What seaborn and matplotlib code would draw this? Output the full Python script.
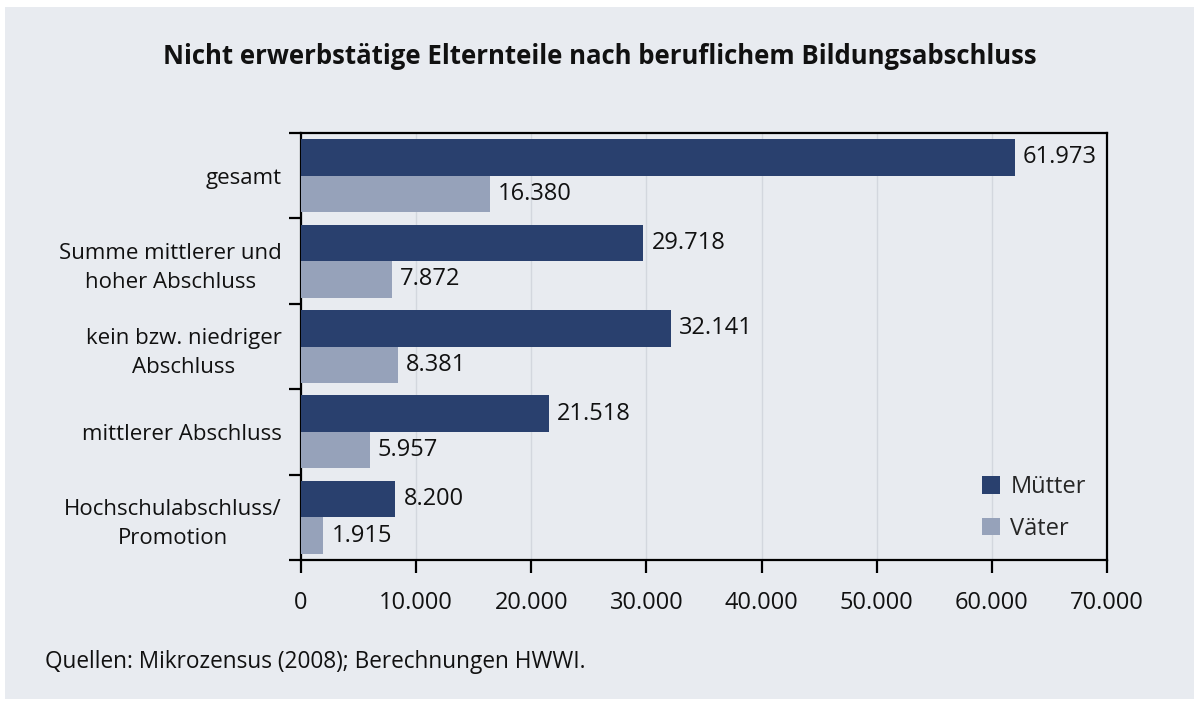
import matplotlib
matplotlib.use("Agg")
import matplotlib.pyplot as plt
import seaborn as sns
import pandas as pd
from matplotlib.patches import Rectangle
from matplotlib.ticker import FuncFormatter

categories = ["gesamt", "Summe mittlerer und\nhoher Abschluss", "kein bzw. niedriger\nAbschluss",
              "mittlerer Abschluss", "Hochschulabschluss/\nPromotion"]
muetter = [61973, 29718, 32141, 21518, 8200]
vaeter = [16380, 7872, 8381, 5957, 1915]
series = ["Mütter", "Väter"]
x_ticks = [0, 10000, 20000, 30000, 40000, 50000, 60000, 70000]

df = pd.DataFrame({
    "Kategorie": categories * 2,
    "Wert": muetter + vaeter,
    "Gruppe": [series[0]] * len(categories) + [series[1]] * len(categories),
})

sns.set_theme(style="white")
plt.rcParams["font.family"] = ["Open Sans", "DejaVu Sans"]

BG = "#e8ebf0"
DARK = "#29406e"
LIGHT = "#96a2ba"
FS = 16
NFS = 17

fig = plt.figure(figsize=(11.99, 7.06), dpi=100, facecolor="white")
fig.patches.append(Rectangle((5 / 1199, 7 / 706), 1 - 10 / 1199, 1 - 14 / 706,
                             transform=fig.transFigure, facecolor=BG, edgecolor="none", zorder=-10))
ax = fig.add_axes([301 / 1199, 1 - 560 / 706, (1107 - 301) / 1199, (560 - 133) / 706])
ax.set_facecolor(BG)

sns.barplot(data=df, y="Kategorie", x="Wert", hue="Gruppe", orient="h",
            palette={series[0]: DARK, series[1]: LIGHT}, width=0.855,
            saturation=1, ax=ax, zorder=3, linewidth=0, edgecolor="none")

ax.set_xlim(0, 70000)
ax.set_xticks(x_ticks)
ax.xaxis.set_major_formatter(FuncFormatter(lambda v, p: f"{int(v):,}".replace(",", ".")))
ax.grid(axis="x", color="#d3d7de", linewidth=1, zorder=0)
ax.set_axisbelow(True)
ax.set_xlabel("")
ax.set_ylabel("")

for s in ax.spines.values():
    s.set_color("black")
    s.set_linewidth(1.6)
    s.set_visible(True)

ax.set_yticks([i + 0.5 for i in range(-1, len(categories))], minor=False)
ax.set_yticks(range(len(categories)), minor=True)
ax.set_yticklabels([])
ax.set_yticklabels(categories, minor=True, ha="right", multialignment="center",
                   fontsize=FS, color="#111111", linespacing=1.5)
ax.set_ylim(len(categories) - 0.5, -0.5)
ax.tick_params(axis="y", which="major", direction="out", length=9, width=1.6, color="black", left=True)
ax.tick_params(axis="y", which="minor", length=0, pad=14, left=True)
ax.tick_params(axis="x", direction="out", length=9, width=1.6, color="black",
               labelsize=NFS, pad=13, bottom=True, labelcolor="#111111")

for cont in ax.containers:
    ax.bar_label(cont, labels=[f"{int(v):,}".replace(",", ".") for v in cont.datavalues],
                 padding=6, fontsize=NFS, color="#111111")

leg = ax.legend(loc="lower right", bbox_to_anchor=(1.0, -0.005), frameon=False, fontsize=NFS,
                handlelength=0.75, handleheight=0.75, handletextpad=0.45, labelspacing=0.75)

fig.text(0.5, 1 - 57 / 706, "Nicht erwerbstätige Elternteile nach beruflichem Bildungsabschluss",
         ha="center", va="center", fontsize=18.5, fontweight="bold", color="#111111")
fig.text(45 / 1199, 1 - 662 / 706, "Quellen: Mikrozensus (2008); Berechnungen HWWI.",
         ha="left", va="center", fontsize=16.3, color="#111111")

fig.savefig("out.png", dpi=100, facecolor="white")
